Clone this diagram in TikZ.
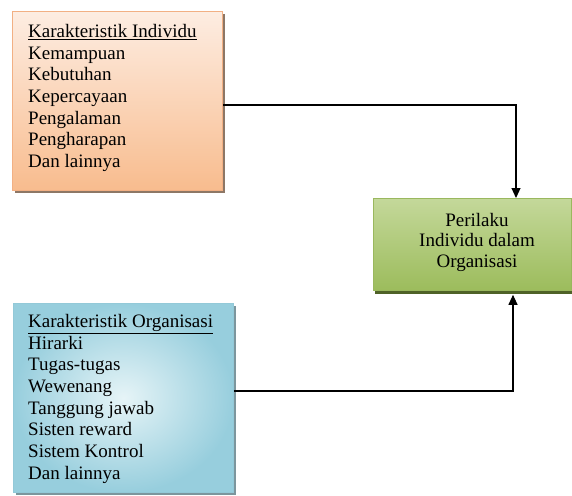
\documentclass[tikz,border=0pt]{standalone}
\usepackage{fontspec}
\setmainfont{Liberation Serif}
\usetikzlibrary{arrows.meta,shadows}
\definecolor{orTop}{HTML}{FDEDE2}
\definecolor{orBot}{HTML}{F8BC8E}
\definecolor{orLine}{HTML}{F2B084}
\definecolor{blIn}{HTML}{E6F4F7}
\definecolor{blOut}{HTML}{97CEDD}
\definecolor{blLine}{HTML}{93C9D8}
\definecolor{grTop}{HTML}{C4D89A}
\definecolor{grBot}{HTML}{9CBC5C}
\definecolor{grLine}{HTML}{9AB85E}
\definecolor{grShadow}{HTML}{4F6228}
\tikzset{
  boxbase/.style={draw, line width=0.8pt, inner sep=0pt, anchor=north west},
  orangebox/.style={boxbase, draw=orLine, top color=orTop, bottom color=orBot,
    drop shadow={shadow xshift=2.5pt, shadow yshift=-3pt, fill=black!55!orBot, opacity=0.8}},
  bluebox/.style={boxbase, draw=blLine, inner color=blIn, outer color=blOut,
    drop shadow={shadow xshift=2.5pt, shadow yshift=-3pt, fill=black!40!blOut, opacity=0.8}},
  greenbox/.style={boxbase, draw=grLine, top color=grTop, bottom color=grBot,
    drop shadow={shadow xshift=2pt, shadow yshift=-4pt, fill=grShadow, opacity=1}},
  listtext/.style={inner sep=0pt, anchor=north west, align=left,
    font=\fontsize{19}{21.7}\selectfont, text=black},
  centertext/.style={inner sep=0pt, align=center,
    font=\fontsize{19}{20.5}\selectfont, text=black},
  conn/.style={line width=1.1pt, black},
  tip/.style={-{Triangle[length=10pt,width=9pt]}}
}
\begin{document}
\begin{tikzpicture}[x=1pt,y=-1pt]
\useasboundingbox (0,0) rectangle (572,495);
\node[orangebox, minimum width=210pt, minimum height=179pt] (ind) at (12,11) {};
\node[bluebox, minimum width=220pt, minimum height=189pt] (org) at (13,303) {};
\node[greenbox, minimum width=198pt, minimum height=92pt] (beh) at (373,198) {};
\node[listtext] (indtext) at (28,24) {\underline{Karakteristik Individu}\\Kemampuan\\Kebutuhan\\Kepercayaan\\Pengalaman\\Pengharapan\\Dan lainnya};
\node[listtext] (orgtext) at (28,314) {\underline{Karakteristik Organisasi}\\Hirarki\\Tugas-tugas\\Wewenang\\Tanggung jawab\\Sisten reward\\Sistem Kontrol\\Dan lainnya};
\node[centertext] (behtext) at (477,242) {Perilaku\\Individu dalam\\Organisasi};
\coordinate (c1) at (516,105);
\coordinate (c2) at (513,391);
\draw[conn, tip] (ind.east |- c1) -- (c1) -- (beh.north -| c1);
\draw[conn, tip] (org.east |- c2) -- (c2) -- ([yshift=-4pt]beh.south -| c2);
\end{tikzpicture}
\end{document}
